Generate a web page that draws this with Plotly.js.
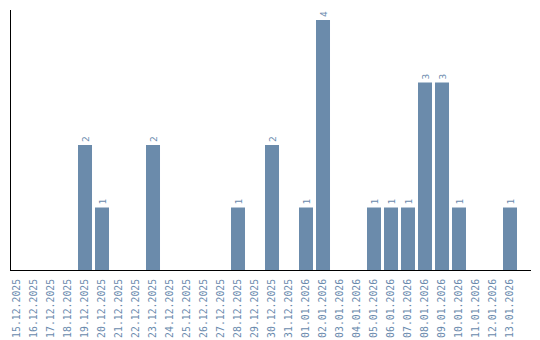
<!DOCTYPE html>
<html><head><meta charset="utf-8">
<script src="https://cdn.plot.ly/plotly-3.0.1.min.js"></script>
<style>html,body{margin:0;padding:0;background:#fff}#c{width:540px;height:340px}</style>
</head><body><div id="c"></div>
<script>
const dates = ["15.12.2025","16.12.2025","17.12.2025","18.12.2025","19.12.2025","20.12.2025","21.12.2025","22.12.2025","23.12.2025","24.12.2025","25.12.2025","26.12.2025","27.12.2025","28.12.2025","29.12.2025","30.12.2025","31.12.2025","01.01.2026","02.01.2026","03.01.2026","04.01.2026","05.01.2026","06.01.2026","07.01.2026","08.01.2026","09.01.2026","10.01.2026","11.01.2026","12.01.2026","13.01.2026"];
const counts = [0,0,0,0,2,1,0,0,2,0,0,0,0,1,0,2,0,1,4,0,0,1,1,1,3,3,1,0,0,1];
const labels = counts.map(v => v > 0 ? String(v) : "");
const color = "#6b8bab";
const tickFont = {family: "DejaVu Sans Mono, monospace", size: 9.8, color: "#6a8aad"};
const barFont = {family: "DejaVu Sans Mono, monospace", size: 9.5, color: "#6a8aad"};
Plotly.newPlot("c", [{
  type: "bar", x: dates, y: counts, text: labels, textposition: "outside",
  textangle: -90, textfont: barFont, marker: {color: color}, cliponaxis: false,
  hoverinfo: "none"
}], {
  width: 540, height: 340, margin: {l: 11, r: 9, t: 10, b: 70},
  bargap: 0.176, showlegend: false, plot_bgcolor: "#fff", paper_bgcolor: "#fff",
  xaxis: {type: "category", range: [-0.353, 30.235], tickangle: -90, tickfont: tickFont, ticklabelstandoff: 4, showline: true, linecolor: "#000", linewidth: 1, ticks: "", showgrid: false, fixedrange: true},
  yaxis: {range: [0, 4.16], showline: true, linecolor: "#000", linewidth: 1, showticklabels: false, ticks: "", showgrid: false, zeroline: false, fixedrange: true}
}, {displayModeBar: false, staticPlot: true});
</script></body></html>
